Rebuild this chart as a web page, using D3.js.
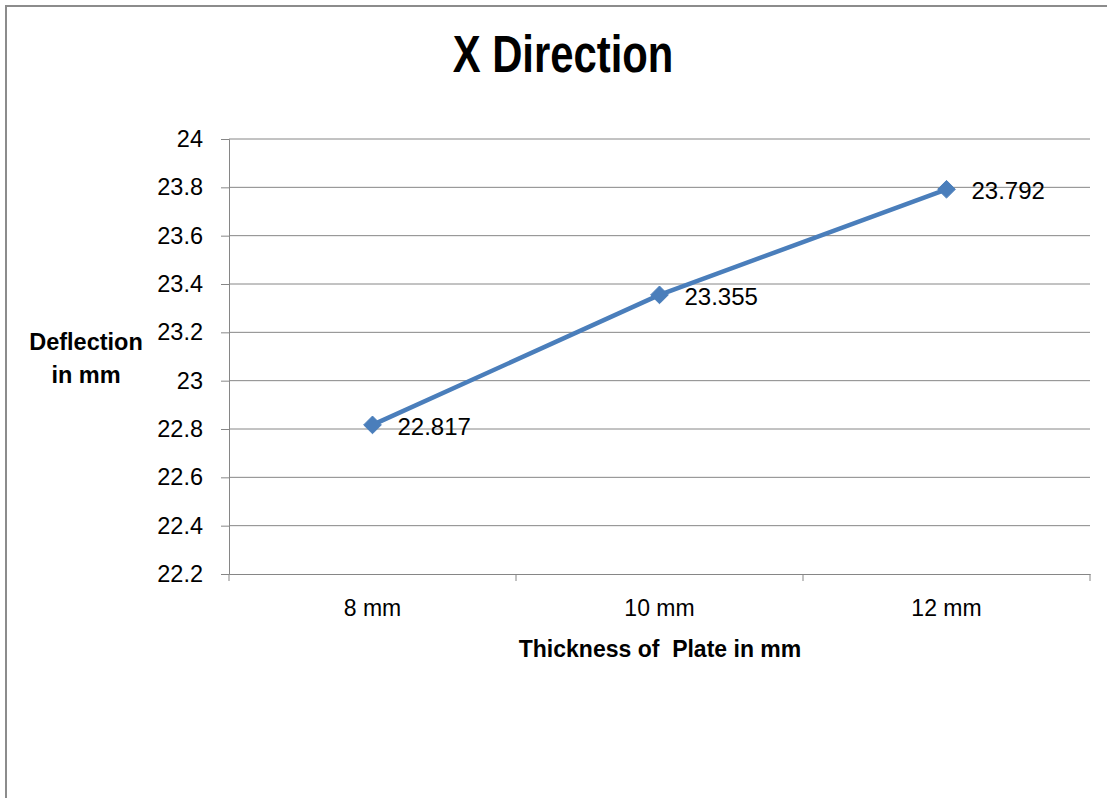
<!DOCTYPE html>
<html>
<head>
<meta charset="utf-8">
<script src="https://cdn.jsdelivr.net/npm/d3@7"></script>
<style>
  body { margin: 0; background: #fff; }
  svg { display: block; font-family: "Liberation Sans", Arial, sans-serif; }
</style>
</head>
<body>
<svg id="svg" width="1107" height="798"></svg>
<script>
const categories = ["8 mm", "10 mm", "12 mm"];
const deflection = [22.817, 23.355, 23.792];
const yTicks = [22.2, 22.4, 22.6, 22.8, 23, 23.2, 23.4, 23.6, 23.8, 24];

var margin = {top: 139, right: 17, bottom: 224, left: 229};
var width = 1107 - margin.left - margin.right;
var height = 798 - margin.top - margin.bottom;

const svg = d3.select("#svg");

// chart frame (runs off the right and bottom edges)
svg.append("rect")
  .attr("x", 6).attr("y", 6)
  .attr("width", 1120).attr("height", 820)
  .attr("fill", "#fff")
  .attr("stroke", "#8c8c8c")
  .attr("stroke-width", 2);

var x = d3.scaleBand().domain(categories).range([0, width]);
var y = d3.scaleLinear().domain([22.2, 24]).range([height, 0]);

const g = svg.append("g")
  .attr("transform", "translate(" + margin.left + "," + margin.top + ")");

// gridlines
g.append("g")
  .selectAll("line")
  .data(yTicks.slice(1))
  .enter().append("line")
    .attr("x1", 0).attr("x2", width)
    .attr("y1", d => y(d)).attr("y2", d => y(d))
    .attr("stroke", "#868686")
    .attr("stroke-width", 1);

// y axis
const yAxis = g.append("g")
  .call(d3.axisLeft(y).tickValues(yTicks).tickSize(8).tickPadding(18)
    .tickFormat(d => String(+d.toFixed(1))));
yAxis.select(".domain").attr("stroke", "#868686");
yAxis.selectAll(".tick line").attr("stroke", "#868686");
yAxis.selectAll("text")
  .attr("font-family", "Liberation Sans, Arial, sans-serif")
  .style("font-size", "23.5px")
  .attr("fill", "#000");

// x axis
const xAxis = g.append("g")
  .attr("transform", "translate(0," + height + ")")
  .call(d3.axisBottom(x).tickSize(0).tickPadding(26));
xAxis.select(".domain").attr("stroke", "#868686");
xAxis.selectAll("text")
  .attr("font-family", "Liberation Sans, Arial, sans-serif")
  .style("font-size", "23px")
  .attr("fill", "#000");

// x tick marks between categories
g.append("g")
  .selectAll("line")
  .data(categories.concat(["end"]))
  .enter().append("line")
    .attr("x1", (d, i) => i * x.step()).attr("x2", (d, i) => i * x.step())
    .attr("y1", height).attr("y2", height + 7)
    .attr("stroke", "#868686");

// series line
const line = d3.line()
  .x((d, i) => x(categories[i]) + x.bandwidth() / 2)
  .y(d => y(d));

g.append("path")
  .datum(deflection)
  .attr("d", line)
  .attr("fill", "none")
  .attr("stroke", "#4a7ebb")
  .attr("stroke-width", 4.5)
  .attr("stroke-linejoin", "round");

// diamond markers
g.selectAll(".marker")
  .data(deflection)
  .enter().append("path")
    .attr("class", "marker")
    .attr("d", d3.symbol().type(d3.symbolDiamond2).size(200))
    .attr("transform", (d, i) => "translate(" + (x(categories[i]) + x.bandwidth() / 2) + "," + y(d) + ")")
    .attr("fill", "#4a7ebb")
    .attr("stroke", "#4a7ebb")
    .attr("stroke-width", 1);

// data labels
g.selectAll(".label")
  .data(deflection)
  .enter().append("text")
    .attr("class", "label")
    .attr("x", (d, i) => x(categories[i]) + x.bandwidth() / 2 + 25)
    .attr("y", d => y(d) + 10)
    .style("font-size", "24px")
    .text(d => d.toFixed(3));

// title (narrow bold)
svg.append("text")
  .attr("transform", "translate(563,72) scale(0.82,1)")
  .attr("text-anchor", "middle")
  .style("font-size", "51px")
  .style("font-weight", "bold")
  .text("X Direction");

// axis titles
const yt = svg.append("text")
  .attr("text-anchor", "middle")
  .style("font-size", "23.5px")
  .style("font-weight", "bold");
yt.append("tspan").attr("x", 86).attr("y", 350).text("Deflection");
yt.append("tspan").attr("x", 86).attr("y", 383).text("in mm");

svg.append("text")
  .attr("x", 660).attr("y", 657)
  .attr("text-anchor", "middle")
  .style("font-size", "23px")
  .style("font-weight", "bold")
  .style("white-space", "pre")
  .attr("xml:space", "preserve")
  .text("Thickness of  Plate in mm");
</script>
</body>
</html>
